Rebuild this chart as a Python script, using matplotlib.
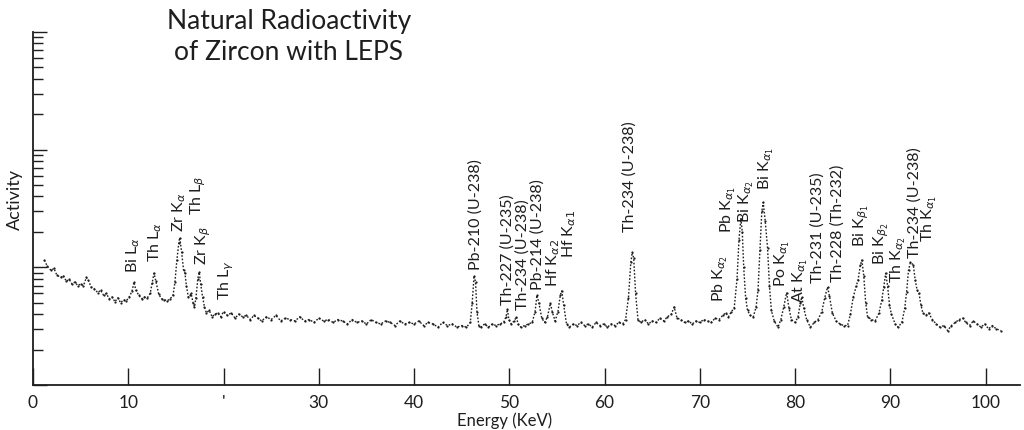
import matplotlib
matplotlib.use("Agg")
import matplotlib.pyplot as plt
from matplotlib.ticker import LogLocator, NullFormatter, FixedLocator, FixedFormatter

plt.rcParams['font.family'] = ['Lato', 'DejaVu Sans']
plt.rcParams['mathtext.fontset'] = 'dejavusans'

# ---- spectrum (energy in keV, activity in arbitrary units) ----
energy = [1.2, 1.5, 1.9, 2.2, 2.5, 2.9, 3.2, 3.5, 3.8, 4.1, 4.4, 4.7, 5.0, 5.3, 5.6, 5.8,
          6.1, 6.4, 6.8, 7.1, 7.4, 7.7, 8.0, 8.3, 8.6, 8.9, 9.2, 9.5, 9.8, 10.1, 10.4, 10.6,
          10.8, 11.1, 11.4, 11.7, 12.0, 12.3, 12.5, 12.7, 12.9, 13.2, 13.5, 13.8, 14.1, 14.4,
          14.7, 14.9, 15.1, 15.3, 15.4, 15.6, 15.8, 15.95, 16.1, 16.3, 16.5, 16.6, 16.8, 16.95,
          17.1, 17.3, 17.45, 17.6, 17.8, 18.0, 18.2, 18.5, 18.8, 19.1, 19.4, 19.7, 20.0, 20.4,
          20.8, 21.2, 21.6, 22.0, 22.4, 22.8, 23.2, 23.6, 24.0, 24.5, 25.0, 25.5, 26.0, 26.5,
          27.0, 27.5, 28.0, 28.5, 29.0, 29.5, 30.0, 30.5, 31.0, 31.5, 32.0, 32.5, 33.0, 33.5,
          34.0, 34.5, 35.0, 35.5, 36.0, 36.5, 37.0, 37.5, 38.0, 38.5, 39.0, 39.5, 40.0, 40.5,
          41.0, 41.5, 42.0, 42.5, 43.0, 43.5, 44.0, 44.5, 45.0, 45.5, 45.9, 46.1, 46.3, 46.45,
          46.6, 46.8, 47.0, 47.4, 47.8, 48.2, 48.6, 49.0, 49.4, 49.65, 49.8, 49.95, 50.2, 50.5,
          50.75, 50.9, 51.2, 51.6, 52.0, 52.4, 52.7, 52.9, 53.1, 53.4, 53.7, 54.0, 54.3, 54.5,
          54.8, 55.1, 55.35, 55.5, 55.7, 56.0, 56.3, 56.7, 57.1, 57.5, 57.9, 58.3, 58.7, 59.1,
          59.5, 59.9, 60.3, 60.7, 61.1, 61.5, 61.9, 62.2, 62.5, 62.75, 62.9, 63.05, 63.25, 63.5,
          63.8, 64.2, 64.6, 65.0, 65.4, 65.8, 66.2, 66.6, 67.0, 67.3, 67.6, 68.0, 68.4, 68.8,
          69.2, 69.6, 70.0, 70.4, 70.8, 71.2, 71.6, 72.0, 72.4, 72.7, 73.0, 73.3, 73.6, 73.9,
          74.1, 74.3, 74.45, 74.6, 74.8, 75.0, 75.3, 75.6, 75.9, 76.1, 76.3, 76.5, 76.65, 76.85,
          77.1, 77.3, 77.5, 77.8, 78.2, 78.5, 78.8, 79.1, 79.35, 79.6, 80.0, 80.3, 80.55, 80.7,
          80.9, 81.2, 81.6, 82.0, 82.4, 82.8, 83.1, 83.4, 83.6, 83.9, 84.3, 84.7, 85.1, 85.5,
          85.8, 86.1, 86.4, 86.6, 86.85, 87.0, 87.2, 87.4, 87.6, 88.0, 88.4, 88.8, 89.1, 89.3,
          89.5, 89.7, 89.9, 90.1, 90.5, 90.8, 91.2, 91.5, 91.7, 91.9, 92.1, 92.4, 92.6, 92.8,
          93.0, 93.2, 93.4, 93.7, 94.0, 94.4, 94.8, 95.2, 95.6, 96.0, 96.4, 96.8, 97.2, 97.6,
          97.9, 98.3, 98.7, 99.1, 99.5, 99.9, 100.3, 100.7, 101.1, 101.6]
activity = [11.5, 10.2, 9.4, 9.8, 8.6, 8.2, 8.5, 7.6, 7.9, 7.2, 7.5, 7.0, 7.2, 7.0, 8.2, 7.8,
            6.8, 6.6, 6.1, 6.4, 5.8, 6.0, 5.4, 5.6, 5.1, 5.5, 5.0, 5.3, 5.2, 5.6, 6.3, 7.5,
            6.4, 5.8, 5.4, 5.6, 5.5, 6.0, 7.3, 8.9, 7.6, 5.9, 5.4, 5.3, 5.2, 5.4,
            5.8, 7.5, 11.5, 16.0, 17.9, 13.5, 9.5, 8.9, 7.0, 5.6, 5.8, 6.0, 5.0, 4.6,
            5.5, 8.0, 9.1, 7.2, 5.6, 4.6, 4.1, 4.3, 3.8, 4.0, 4.1, 3.8, 4.2, 3.9,
            4.1, 3.7, 4.0, 3.8, 3.9, 3.6, 3.9, 3.7, 3.5, 3.8, 3.6, 3.9, 3.5, 3.7,
            3.6, 3.5, 3.8, 3.5, 3.6, 3.4, 3.7, 3.5, 3.6, 3.4, 3.6, 3.5, 3.3, 3.6,
            3.4, 3.5, 3.3, 3.6, 3.4, 3.3, 3.5, 3.4, 3.2, 3.5, 3.3, 3.4, 3.3, 3.5,
            3.2, 3.4, 3.3, 3.1, 3.4, 3.2, 3.3, 3.1, 3.2, 3.1, 3.4, 5.0, 8.5, 7.5,
            4.2, 3.2, 3.1, 3.3, 3.1, 3.3, 3.2, 3.3, 3.4, 3.8, 4.4, 3.6, 3.3, 3.5,
            3.8, 3.3, 3.1, 3.2, 3.3, 3.4, 4.2, 5.8, 5.0, 3.7, 3.4, 3.8, 4.95, 4.2,
            3.5, 4.2, 5.8, 6.3, 4.8, 3.3, 3.1, 3.3, 3.2, 3.4, 3.2, 3.3, 3.1, 3.4,
            3.2, 3.3, 3.1, 3.3, 3.2, 3.4, 3.3, 3.6, 5.5, 11.0, 13.4, 12.0, 6.0, 3.6,
            3.4, 3.6, 3.3, 3.5, 3.4, 3.7, 3.5, 3.8, 4.0, 4.6, 3.7, 3.6, 3.4, 3.5,
            3.3, 3.5, 3.4, 3.6, 3.5, 3.4, 3.7, 3.6, 3.9, 4.1, 3.8, 4.2, 4.5, 8.0,
            17.0, 26.0, 20.0, 10.0, 5.5, 4.3, 3.9, 3.8, 4.6, 6.4, 14.0, 30.0, 35.6, 25.0,
            14.7, 7.0, 4.3, 3.5, 3.1, 3.6, 4.6, 6.1, 4.5, 3.6, 3.4, 3.8, 5.0, 5.6,
            4.5, 3.6, 3.1, 3.4, 3.6, 4.2, 5.5, 6.8, 5.7, 4.1, 3.5, 3.3, 3.2, 3.2,
            4.0, 5.6, 6.9, 7.8, 10.5, 11.5, 8.5, 5.0, 3.8, 3.6, 3.5, 4.1, 5.3, 6.8,
            8.9, 7.0, 4.8, 4.0, 3.3, 3.1, 3.4, 4.5, 6.2, 9.5, 11.0, 10.5, 7.8, 6.4,
            6.0, 4.8, 4.1, 3.9, 4.1, 3.6, 3.3, 3.1, 3.2, 2.9, 3.2, 3.4, 3.6, 3.7,
            3.4, 3.2, 3.5, 3.3, 3.1, 3.3, 3.0, 3.2, 3.0, 2.9]

# ---- peak labels ----
label_text = [r"Bi L$_{\alpha}$", r"Th L$_{\alpha}$", r"Zr K$_{\alpha}$", r"Th L$_{\beta}$",
              r"Zr K$_{\beta}$", r"Th L$_{\gamma}$", "Pb-210 (U-238)", "Th-227 (U-235)",
              "Th-234 (U-238)", "Pb-214 (U-238)", r"Hf K$_{\alpha 2}$", r"Hf K$_{\alpha 1}$",
              "Th-234 (U-238)", r"Pb K$_{\alpha_2}$", r"Pb K$_{\alpha_1}$", r"Bi K$_{\alpha_2}$",
              r"Bi K$_{\alpha_1}$", r"Po K$_{\alpha_1}$", r"At K$_{\alpha_1}$", "Th-231 (U-235)",
              "Th-228 (Th-232)", r"Bi K$_{\beta_1}$", r"Bi K$_{\beta_2}$", r"Th K$_{\alpha_2}$",
              "Th-234 (U-238)", r"Th K$_{\alpha_1}$"]
label_energy = [10.5, 12.8, 15.3, 17.3, 17.9, 20.3, 46.5, 49.8, 51.4, 53.0, 54.6, 56.3,
                62.6, 72.1, 73.0, 74.9, 77.0, 78.6, 80.5, 82.4, 84.4, 86.9, 89.0, 90.8,
                92.5, 94.1]
label_level = [8.9, 11.0, 19.8, 27.6, 10.4, 5.25, 9.4, 4.76, 4.3, 6.4, 6.8, 11.9,
               19.8, 5.05, 19.4, 24.0, 45.0, 6.8, 4.95, 7.3, 7.5, 14.8, 10.4, 7.3,
               11.9, 16.3]

x_ticks = [0, 10, 20, 30, 40, 50, 60, 70, 80, 90, 100]
x_tick_labels = ["0", "10", "'", "30", "40", "50", "60", "70", "80", "90", "100"]

title_lines = "Natural Radioactivity\nof Zircon with LEPS"
x_label = "Energy (KeV)"
y_label = "Activity"

W, H = 1024, 430
fig = plt.figure(figsize=(W / 100, H / 100), dpi=100)
fig.patch.set_facecolor("white")
ax = fig.add_axes([33 / W, 45 / H, 987 / W, 353 / H])

ink = "#1e1e1e"
ax.plot(energy, activity, color=ink, lw=1.0, ls=(0, (1.2, 1.3)))
ax.plot(energy, activity, ls="none", marker="o", ms=1.6, mew=0, color=ink)

ax.set_yscale("log")
ax.set_ylim(1, 1000)
ax.set_xlim(0, 103.6)

for s in ("top", "right"):
    ax.spines[s].set_visible(False)
for s in ("left", "bottom"):
    ax.spines[s].set_color(ink)
    ax.spines[s].set_linewidth(1.3)

ax.yaxis.set_major_locator(LogLocator(base=10, numticks=10))
ax.yaxis.set_minor_locator(LogLocator(base=10, subs=[2, 3, 4, 5, 6, 7, 8, 9], numticks=20))
ax.yaxis.set_major_formatter(NullFormatter())
ax.yaxis.set_minor_formatter(NullFormatter())
ax.tick_params(axis="y", which="major", direction="in", length=10, width=1.0, color=ink)
ax.tick_params(axis="y", which="minor", direction="in", length=7, width=1.0, color=ink)

ax.xaxis.set_major_locator(FixedLocator(x_ticks))
ax.xaxis.set_major_formatter(FixedFormatter(x_tick_labels))
ax.tick_params(axis="x", which="major", direction="in", length=12, width=1.0, color=ink,
               labelsize=12.5, pad=7, labelcolor=ink)

for t, xe, yl in zip(label_text, label_energy, label_level):
    ax.text(xe, yl, t, rotation=90, ha="center", va="bottom", fontsize=11.5, color=ink)

fig.text(289 / W, 1 - 37 / H, title_lines, ha="center", va="center", fontsize=19,
         color=ink, linespacing=1.25)
fig.text(505 / W, 1 - 421 / H, x_label, ha="center", va="center", fontsize=12, color=ink)
fig.text(15 / W, 1 - 199 / H, y_label, rotation=90, ha="center", va="center",
         fontsize=13, color=ink)

fig.savefig("out.png", dpi=100, facecolor="white")
